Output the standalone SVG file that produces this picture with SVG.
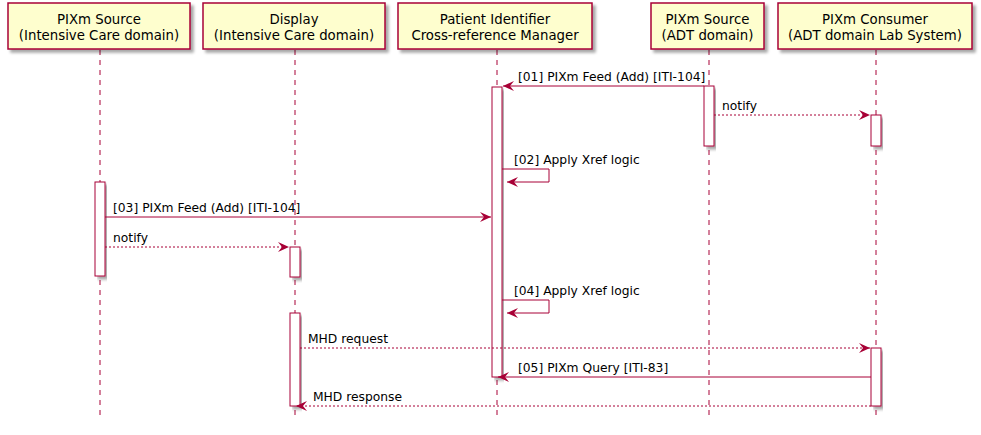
<svg xmlns="http://www.w3.org/2000/svg" width="981" height="435" viewBox="0 0 981 435">
<defs>
<filter id="sh" x="-10%" y="-10%" width="130%" height="130%">
<feGaussianBlur in="SourceAlpha" stdDeviation="1.5"/>
<feOffset dx="3" dy="3" result="b"/>
<feComponentTransfer><feFuncA type="linear" slope="0.35"/></feComponentTransfer>
<feMerge><feMergeNode/><feMergeNode in="SourceGraphic"/></feMerge>
</filter>
<marker id="ah" viewBox="0 0 12 10" refX="11" refY="5" markerWidth="12" markerHeight="10" markerUnits="userSpaceOnUse" orient="auto">
<polygon points="0,0 11,5 0,10 4,5" fill="#A80036"/>
</marker>
</defs>
<style>
.box{fill:#FEFECE;stroke:#A80036;stroke-width:1.5;filter:url(#sh)}
.act{fill:#FFFFFF;stroke:#A80036;stroke-width:1;filter:url(#sh)}
.life{stroke:#A80036;stroke-width:1;stroke-dasharray:5,5;fill:none}
.msg{stroke:#A80036;stroke-width:1;fill:none;marker-end:url(#ah)}
.dash{stroke-dasharray:2,2}
.ht{font-family:"DejaVu Sans",sans-serif;font-size:13.3px;fill:#000;text-anchor:middle}
.mt{font-family:"DejaVu Sans",sans-serif;font-size:12.3px;fill:#000}
</style>
<rect width="981" height="435" fill="#FFFFFF"/>
<g id="lifelines">
<line class="life" x1="100" y1="50" x2="100" y2="420"/>
<line class="life" x1="295" y1="50" x2="295" y2="420"/>
<line class="life" x1="497" y1="50" x2="497" y2="420"/>
<line class="life" x1="709" y1="50" x2="709" y2="420"/>
<line class="life" x1="876" y1="50" x2="876" y2="420"/>
</g>
<g id="p1"><rect class="box" x="8" y="3" width="182" height="46"/><text class="ht" x="99" y="24">PIXm Source</text><text class="ht" x="99" y="40">(Intensive Care domain)</text></g>
<g id="p2"><rect class="box" x="203" y="3" width="182" height="46"/><text class="ht" x="294" y="24">Display</text><text class="ht" x="294" y="40">(Intensive Care domain)</text></g>
<g id="p3"><rect class="box" x="398" y="3" width="194" height="46"/><text class="ht" x="495" y="24">Patient Identifier</text><text class="ht" x="495" y="40">Cross-reference Manager</text></g>
<g id="p4"><rect class="box" x="651" y="3" width="113" height="46"/><text class="ht" x="707.5" y="24">PIXm Source</text><text class="ht" x="707.5" y="40">(ADT domain)</text></g>
<g id="p5"><rect class="box" x="778" y="3" width="194" height="46"/><text class="ht" x="875" y="24">PIXm Consumer</text><text class="ht" x="875" y="40">(ADT domain Lab System)</text></g>
<g id="activations">
<rect class="act" x="492" y="87" width="10" height="290"/>
<rect class="act" x="704" y="86" width="10" height="60"/>
<rect class="act" x="871" y="115" width="10" height="31"/>
<rect class="act" x="95" y="182" width="10" height="94"/>
<rect class="act" x="290" y="247" width="10" height="30"/>
<rect class="act" x="290" y="313" width="10" height="93"/>
<rect class="act" x="871" y="348" width="10" height="58"/>
</g>
<g id="connectors">
<line class="msg" x1="704" y1="86" x2="503" y2="86"/>
<line class="msg dash" x1="714" y1="115" x2="870" y2="115"/>
<polyline class="msg" points="502,169 549,169 549,182 507,182"/>
<line class="msg" x1="105" y1="217" x2="491" y2="217"/>
<line class="msg dash" x1="105" y1="247" x2="289" y2="247"/>
<polyline class="msg" points="502,300 549,300 549,313 507,313"/>
<line class="msg dash" x1="300" y1="348" x2="870" y2="348"/>
<line class="msg" x1="871" y1="377" x2="498" y2="377"/>
<line class="msg dash" x1="871" y1="406" x2="296" y2="406"/>
</g>
<g id="labels">
<text class="mt" x="518" y="81">[01] PIXm Feed (Add) [ITI-104]</text>
<text class="mt" x="722" y="110">notify</text>
<text class="mt" x="514" y="164">[02] Apply Xref logic</text>
<text class="mt" x="113" y="212">[03] PIXm Feed (Add) [ITI-104]</text>
<text class="mt" x="113" y="242">notify</text>
<text class="mt" x="514" y="295">[04] Apply Xref logic</text>
<text class="mt" x="308" y="343">MHD request</text>
<text class="mt" x="518" y="372">[05] PIXm Query [ITI-83]</text>
<text class="mt" x="313" y="401">MHD response</text>
</g>
</svg>
